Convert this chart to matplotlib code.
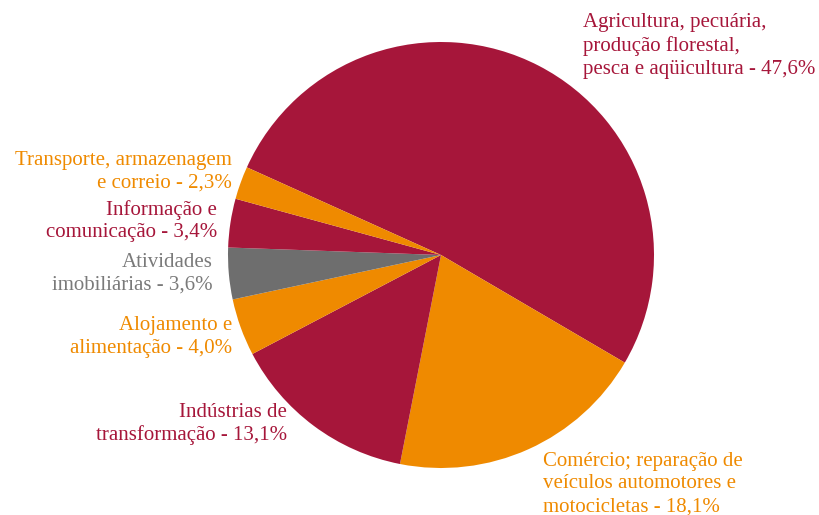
from matplotlib import pyplot as plt

# dados (% do total)
setores = ['Agricultura, pecuária,\nprodução florestal,\npesca e aqüicultura - 47,6%',
           'Comércio; reparação de\nveículos automotores e\nmotocicletas - 18,1%',
           'Indústrias de\ntransformação - 13,1%',
           'Alojamento e\nalimentação - 4,0%',
           'Atividades\nimobiliárias - 3,6%',
           'Informação e\ncomunicação - 3,4%',
           'Transporte, armazenagem\ne correio - 2,3%']
valores = [47.6, 18.1, 13.1, 4.0, 3.6, 3.4, 2.3]

vermelho = '#A6163A'
laranja = '#EF8A00'
cinza = '#6E6E6E'
cores = [vermelho, laranja, vermelho, laranja, cinza, vermelho, laranja]
cores_txt = [vermelho, laranja, vermelho, laranja, '#7A7A7A', vermelho, laranja]

plt.rcParams['font.family'] = ['Liberation Serif', 'DejaVu Serif']

W, H = 819, 515
cx, cy, R = 441, 255, 213

fig = plt.figure(figsize=(W / 100, H / 100), dpi=100)
ax = fig.add_axes([0, 0, 1, 1])
ax.pie(valores, colors=cores, startangle=155.7, counterclock=False,
       radius=1, center=(0, 0))
ax.set_xlim(-cx / R, (W - cx) / R)
ax.set_ylim(-(H - cy) / R, cy / R)
ax.set_aspect('equal')
ax.axis('off')

def px(x, y):
    return (x - cx) / R, (cy - y) / R

# posicao dos rotulos (pixels)
pos = [(583, 46, 'left'), (543, 484, 'left'), (287, 424, 'right'),
       (232, 337, 'right'), (213, 274, 'right'), (217, 221, 'right'),
       (232, 172, 'right')]

for txt, c, (x, y, ha) in zip(setores, cores_txt, pos):
    ax.text(*px(x, y), txt, color=c, ha=ha, va='center', multialignment=ha,
            fontsize=15, linespacing=1.27)

plt.savefig('out.png', dpi=100)
